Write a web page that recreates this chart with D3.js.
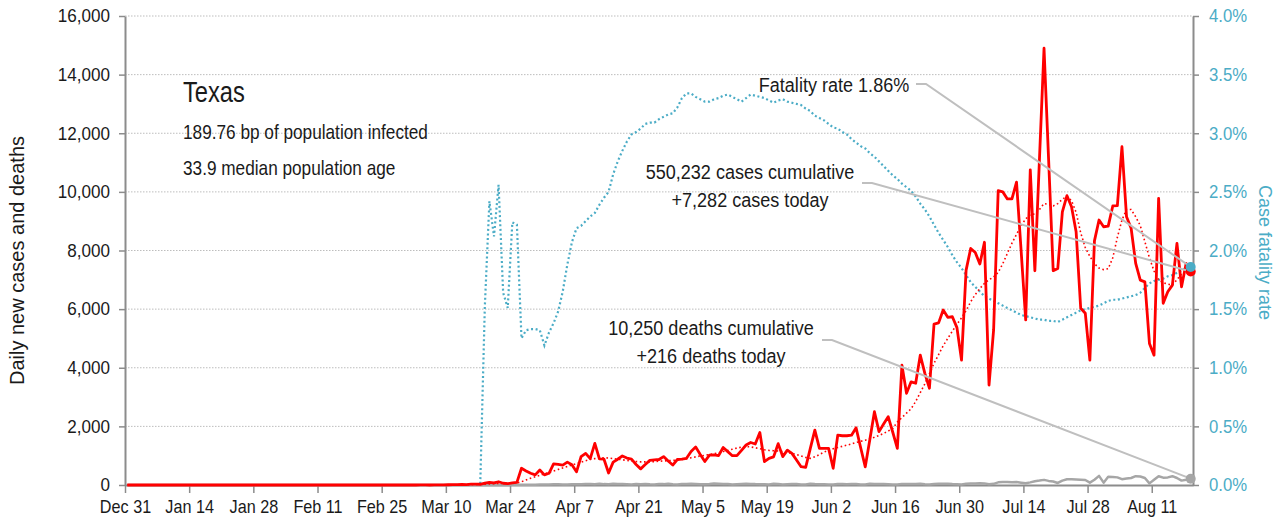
<!DOCTYPE html>
<html>
<head>
<meta charset="utf-8">
<script src="https://cdn.jsdelivr.net/npm/d3@7"></script>
<style>
  body { margin: 0; background: #fff; }
  svg text { font-family: 'Liberation Sans', Arial, sans-serif; fill: #1a1a1a; }
</style>
</head>
<body>
<svg id="chart"></svg>
<script>
// first day of the series and end of the time axis
const START_DATE = new Date(2019, 11, 31)
const END_DATE = new Date(2020, 7, 20)

// daily new cases, one value per day from Dec 31
const casesDaily = [
  0,0,0,0,0,0,0,0,0,0,0,0,0,0,0,0,
  0,0,0,0,0,0,0,0,0,0,0,0,0,0,0,0,
  0,0,0,0,0,0,0,0,0,0,0,0,0,0,0,0,
  0,0,0,0,0,0,0,0,0,0,0,0,0,0,0,0,
  1,2,0,3,5,4,8,10,12,20,15,28,30,25,60,90,70,110,60,45,70,90,
  570,480,400,345,510,345,400,720,700,680,780,690,450,970,1080,900,1420,890,880,410,
  780,880,990,920,880,700,550,700,840,860,870,970,820,680,870,
  880,910,1140,1300,1040,800,1020,1030,1000,1280,1140,1000,1000,1180,1365,1450,1400,1790,800,910,
  960,1410,970,1190,1080,850,625,600,1240,1870,1250,1250,1250,570,1700,1680,1680,1700,1950,1270,
  620,1550,2500,1820,2080,2330,1800,1250,
  4090,3130,3520,3470,4430,3810,3300,5490,5530,5970,5720,5740,5370,4260,7330,8070,7930,7540,8280,3410,
  5290,10040,10000,9760,9760,10330,8000,5630,10750,7310,11100,14900,11100,7310,7390,9320,9870,9490,8640,
  6030,5860,4260,8330,9040,8810,8830,9520,9530,11540,9150,8760,7560,6990,6930,4830,4430,9780,6200,6590,
  6820,8240,6760,7560,7282
]

// smoothed daily cases (dotted red line)
const casesAvg = [
  0,0,0,0,0,0,0,0,0,0,0,0,0,0,0,0,
  0,0,0,0,0,0,0,0,0,0,0,0,0,0,0,0,
  0,0,0,0,0,0,0,0,0,0,0,0,0,0,0,0,
  0,0,0,0,0,0,0,0,0,0,0,0,0,0,0,0,
  1,1,1,2,2,3,4,5,7,9,11,14,17,22,28,36,45,52,58,62,66,70,
  110,170,230,280,330,380,430,480,530,580,630,680,730,780,830,870,900,920,930,920,
  900,880,860,840,820,800,790,790,790,800,810,820,830,840,850,
  870,900,930,960,990,1010,1040,1070,1100,1140,1180,1220,1260,1290,1310,1300,1270,1240,1200,1180,
  1170,1160,1140,1110,1080,1040,990,940,910,960,1040,1120,1190,1240,1280,1320,1360,1400,1450,1490,
  1530,1580,1630,1690,1760,1840,1930,2150,
  2300,2450,2600,2850,3150,3450,3800,4150,4450,4750,5000,5250,5480,5700,5950,6250,6500,6700,6880,7000,
  7100,7250,7550,7900,8250,8550,8850,9080,9220,9250,9400,9600,9580,9520,9600,9750,9850,9700,9300,
  8600,8100,7800,7550,7400,7350,7380,7750,8450,9040,9400,9400,9150,8850,8300,7750,7300,7000,6900,6850,
  6820,7000,7200,7300,7330
]

// daily new deaths
const deathsDaily = [
  0,0,0,0,0,0,0,0,0,0,0,0,0,0,0,0,
  0,0,0,0,0,0,0,0,0,0,0,0,0,0,0,0,
  0,0,0,0,0,0,0,0,0,0,0,0,0,0,0,0,
  0,0,0,0,0,0,0,0,0,0,0,0,0,0,0,0,
  0,0,0,0,0,0,0,0,0,0,0,0,0,
  0,1,2,3,1,4,3,5,5,8,10,12,9,15,20,14,22,25,20,18,28,25,22,30,
  35,28,45,30,22,40,34,30,27,20,35,28,36,25,20,32,30,45,25,20,35,30,40,36,28,25,33,50,42,30,
  38,20,28,35,42,36,30,28,22,18,40,35,20,28,30,32,18,15,40,32,28,25,20,15,35,30,28,33,32,20,
  15,40,38,30,35,28,20,15,38,30,34,35,45,25,20,35,40,45,40,30,25,20,40,50,55,60,55,25,40,90,
  100,105,95,100,80,60,90,130,150,175,140,120,70,150,195,200,190,180,170,80,
  180,310,80,280,275,260,200,220,240,300,290,240,55,180,300,250,260,300,240,150,180,216
]

// case fatality rate, percent
const fatalityRate = [
  0,0,0,0,0,0,0,0,0,0,0,0,0,0,0,0,
  0,0,0,0,0,0,0,0,0,0,0,0,0,0,0,0,
  0,0,0,0,0,0,0,0,0,0,0,0,0,0,0,0,
  0,0,0,0,0,0,0,0,0,0,0,0,0,0,0,0,
  0,0,0,0,0,0,0,0,0,0,0,0,0,
  0,1.52,2.42,2.12,2.56,1.64,1.51,2.24,2.22,1.25,1.32,1.33,1.33,1.32,1.19,1.30,1.38,1.48,1.65,1.88,
  2.07,2.19,2.21,2.25,2.29,2.32,2.39,2.45,2.50,2.65,2.76,2.85,2.93,2.99,3.01,3.04,3.08,3.09,3.09,3.12,
  3.14,3.16,3.17,3.22,3.30,3.34,
  3.34,3.31,3.29,3.27,3.27,3.29,3.30,3.32,3.33,3.31,
  3.29,3.27,3.30,3.33,3.32,3.31,3.30,3.28,3.26,3.28,
  3.29,3.27,3.26,3.25,3.24,3.21,3.19,3.15,3.13,3.11,
  3.08,3.05,3.04,3.01,2.99,2.95,2.92,2.89,2.87,2.83,
  2.80,2.76,2.72,2.68,2.64,2.61,2.57,2.54,2.51,2.46,
  2.40,2.35,2.29,2.22,2.15,2.09,2.03,1.96,1.90,1.85,
  1.79,1.73,1.69,1.65,1.61,1.59,1.57,1.55,1.53,1.51,
  1.49,1.47,1.45,1.44,1.43,1.42,1.41,1.41,1.40,1.40,
  1.39,1.41,1.43,1.45,1.47,1.49,1.50,1.51,1.52,1.53,
  1.55,1.57,1.58,1.58,1.59,1.60,1.61,1.62,1.64,1.68,
  1.72,1.74,1.75,1.76,1.78,1.79,1.81,1.83,1.85,1.86
]

const leftTicks = [0, 2000, 4000, 6000, 8000, 10000, 12000, 14000, 16000]
const rightTicks = [0, 0.5, 1, 1.5, 2, 2.5, 3, 3.5, 4]
const dateTickOffsets = [0, 14, 28, 42, 56, 70, 84, 98, 112, 126, 140, 154, 168, 182, 196, 210, 224]

const titleText = 'Texas'
const subtitleLines = ['189.76 bp of population infected', '33.9 median population age']
const fatalityLabel = ['Fatality rate 1.86%']
const casesLabel = ['550,232 cases cumulative', '+7,282 cases today']
const deathsLabel = ['10,250 deaths cumulative', '+216 deaths today']

const W = 1283
const H = 526
const plot = { left: 125, right: 1193, top: 16, bottom: 485 }

const RED = '#ff0000'
const BLUE = '#4bacc6'
const GREY = '#a6a6a6'
const LINK = '#bfbfbf'

// the original face is a narrow grotesque, so text is squeezed horizontally
const NARROW = 0.86

const svg = d3.select('#chart')
  .attr('width', W)
  .attr('height', H)
  .attr('viewBox', `0 0 ${W} ${H}`)

function addText(parent, { x, y, text, size, sx = NARROW, anchor = 'start', color, rotate = 0 }) {
  const t = parent.append('text')
    .attr('transform', `translate(${x},${y}) rotate(${rotate}) scale(${sx},1)`)
    .attr('text-anchor', anchor)
    .attr('font-size', size + 'px')
    .text(text)
  if (color) t.style('fill', color)
  return t
}

// each value sits in the middle of its day
const dates = casesDaily.map((_, i) => d3.timeHour.offset(d3.timeDay.offset(START_DATE, i), 12))
const lastIdx = dates.length - 1

const x = d3.scaleTime()
  .domain([START_DATE, END_DATE])
  .range([plot.left, plot.right])

const yL = d3.scaleLinear()
  .domain([0, 16000])
  .range([plot.bottom, plot.top])

const yR = d3.scaleLinear()
  .domain([0, 4])
  .range([plot.bottom, plot.top])

// dotted gridlines
svg.append('g')
  .selectAll('line')
  .data(leftTicks.filter(d => d > 0))
  .enter()
  .append('line')
  .attr('x1', plot.left)
  .attr('x2', plot.right)
  .attr('y1', d => yL(d))
  .attr('y2', d => yL(d))
  .attr('stroke', '#bdbdbd')
  .attr('stroke-width', 1)
  .attr('stroke-dasharray', '1.5,1.5')

// axes
const styleAxis = (g, color, sx) => {
  g.select('.domain').attr('stroke', '#8c8c8c').attr('stroke-width', 2)
  g.selectAll('.tick line').attr('stroke', '#8c8c8c').attr('stroke-width', 1.5)
  g.selectAll('.tick text')
    .style('fill', color)
    .attr('font-size', '18px')
    .attr('x', function () { return (+d3.select(this).attr('x') || 0) / sx })
    .attr('transform', `scale(${sx},1)`)
}

svg.append('g')
  .attr('transform', `translate(${plot.left},0)`)
  .call(d3.axisLeft(yL).tickValues(leftTicks).tickFormat(d3.format(',')).tickSize(6).tickSizeOuter(0).tickPadding(9))
  .call(g => styleAxis(g, '#1a1a1a', 0.95))

svg.append('g')
  .attr('transform', `translate(${plot.right},0)`)
  .call(d3.axisRight(yR).tickValues(rightTicks).tickFormat(d => d.toFixed(1) + '%').tickSize(6).tickSizeOuter(0).tickPadding(10))
  .call(g => styleAxis(g, BLUE, 0.93))

svg.append('g')
  .attr('transform', `translate(0,${plot.bottom})`)
  .call(d3.axisBottom(x)
    .tickValues(dateTickOffsets.map(i => d3.timeDay.offset(START_DATE, i)))
    .tickFormat(d3.timeFormat('%b %-d'))
    .tickSize(8).tickSizeOuter(0).tickPadding(7))
  .call(g => styleAxis(g, '#1a1a1a', 0.9))

// axis titles
addText(svg, { x: 24, y: (plot.top + plot.bottom) / 2 + 10, text: 'Daily new cases and deaths', size: 20, sx: 1, anchor: 'middle', rotate: -90 })
addText(svg, { x: 1259, y: (plot.top + plot.bottom) / 2 + 2, text: 'Case fatality rate', size: 18, sx: 1, anchor: 'middle', rotate: 90, color: BLUE })

// series
const lineOf = (values, scale) => d3.line()
  .x((d, i) => x(dates[i]))
  .y(d => scale(d))(values)

svg.append('path')
  .attr('d', lineOf(fatalityRate, yR))
  .attr('fill', 'none')
  .attr('stroke', BLUE)
  .attr('stroke-width', 2.2)
  .attr('stroke-dasharray', '2,2.6')

svg.append('path')
  .attr('d', lineOf(deathsDaily, yL))
  .attr('fill', 'none')
  .attr('stroke', GREY)
  .attr('stroke-width', 2.5)
  .attr('stroke-linejoin', 'round')

svg.append('path')
  .attr('d', lineOf(casesAvg, yL))
  .attr('fill', 'none')
  .attr('stroke', RED)
  .attr('stroke-width', 1.6)
  .attr('stroke-dasharray', '1.6,2.6')

svg.append('path')
  .attr('d', lineOf(casesDaily, yL))
  .attr('fill', 'none')
  .attr('stroke', RED)
  .attr('stroke-width', 2.8)
  .attr('stroke-linejoin', 'round')

// annotations: text, leader line to the last value, end marker
const lastX = x(dates[lastIdx])
const notes = [
  { lines: fatalityLabel, cx: 834, y: 92, lead: [916, 84], end: yR(fatalityRate[lastIdx]), color: BLUE },
  { lines: casesLabel, cx: 750, y: 179, lead: [862, 183], end: yL(casesDaily[lastIdx]), color: RED },
  { lines: deathsLabel, cx: 711, y: 335, lead: [822, 340], end: yL(deathsDaily[lastIdx]), color: GREY }
]

const noteG = svg.append('g')

notes.forEach(n => {
  noteG.append('polyline')
    .attr('points', [[n.lead[0], n.lead[1]], [n.lead[0] + 10, n.lead[1]], [lastX, n.end]].map(p => p.join(',')).join(' '))
    .attr('fill', 'none')
    .attr('stroke', LINK)
    .attr('stroke-width', 2)
})

// markers: deaths, cases, then fatality on top
;[notes[2], notes[1], notes[0]].forEach(n => {
  noteG.append('circle')
    .attr('cx', lastX)
    .attr('cy', n.end)
    .attr('r', 5)
    .attr('fill', n.color)
})

notes.forEach(n => {
  n.lines.forEach((s, i) => {
    addText(noteG, { x: n.cx, y: n.y + i * 28, text: s, size: 21, anchor: 'middle' })
  })
})

// title block
addText(svg, { x: 183, y: 102, text: titleText, size: 30, sx: 0.79 })
subtitleLines.forEach((s, i) => {
  addText(svg, { x: 183, y: 139 + i * 36, text: s, size: 21, sx: 0.82 })
})
</script>
</body>
</html>
